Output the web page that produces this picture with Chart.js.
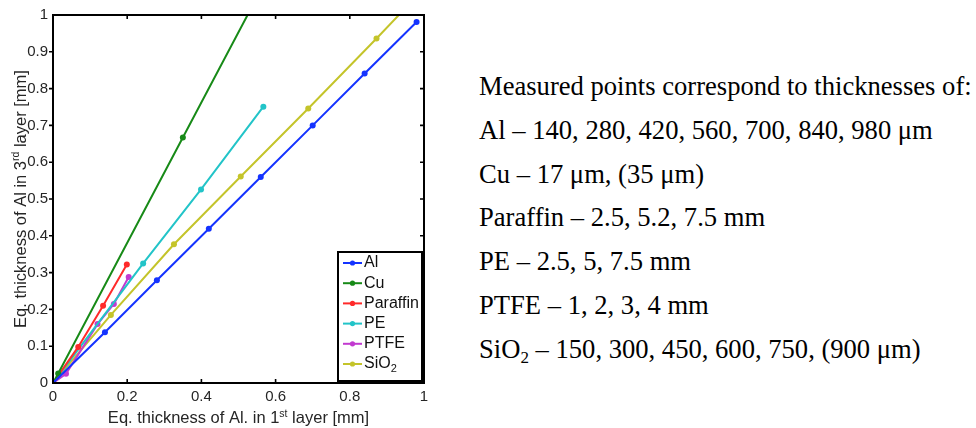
<!DOCTYPE html>
<html>
<head>
<meta charset="utf-8">
<script src="https://cdn.jsdelivr.net/npm/chart.js@4.4.0/dist/chart.umd.min.js"></script>
<style>
  html, body { margin: 0; padding: 0; background: #fff; }
  body { width: 976px; height: 428px; position: relative; overflow: hidden; }
  #plot { position: absolute; left: 0; top: 0; }
  .note { position: absolute; left: 479px; font-family: "Liberation Serif", "Times New Roman", serif;
          font-size: 26.6px; line-height: 26px; color: #000; white-space: nowrap; }
  .note sub { font-size: 17px; vertical-align: -5px; line-height: 0; }
</style>
</head>
<body>
<canvas id="plot" width="440" height="428"></canvas>
<div class="note" style="top:73px">Measured points correspond to thicknesses of:</div>
<div class="note" style="top:117px">Al – 140, 280, 420, 560, 700, 840, 980 μm</div>
<div class="note" style="top:161px">Cu – 17 μm, (35 μm)</div>
<div class="note" style="top:204px">Paraffin – 2.5, 5.2, 7.5 mm</div>
<div class="note" style="top:248px">PE – 2.5, 5, 7.5 mm</div>
<div class="note" style="top:292px">PTFE – 1, 2, 3, 4 mm</div>
<div class="note" style="top:336px">SiO<sub>2</sub> – 150, 300, 450, 600, 750, (900 μm)</div>
<script>
// series (x = 1st layer, y = 3rd layer, mm)
var seriesNames = ['Al', 'Cu', 'Paraffin', 'PE', 'PTFE', 'SiO2'];
var seriesColors = ['#1433ff', '#178a17', '#ff2a2a', '#22c4c8', '#c23ad0', '#c4c42a'];

var alX = [0, 0.14, 0.28, 0.42, 0.56, 0.70, 0.84, 0.98];
var alY = [0, 0.138, 0.279, 0.419, 0.56, 0.70, 0.841, 0.981];
var cuX = [0, 0.014, 0.35, 0.70];
var cuY = [0, 0.026, 0.667, 1.335];
var paraffinX = [0, 0.068, 0.135, 0.199];
var paraffinY = [0, 0.098, 0.21, 0.322];
var peX = [0, 0.243, 0.399, 0.567];
var peY = [0, 0.325, 0.526, 0.751];
var ptfeX = [0, 0.035, 0.12, 0.164, 0.204];
var ptfeY = [0, 0.025, 0.16, 0.215, 0.288];
var sio2X = [0, 0.156, 0.326, 0.506, 0.688, 0.872, 1.05];
var sio2Y = [0, 0.185, 0.377, 0.561, 0.746, 0.936, 1.125];

var xTicks = [0, 0.2, 0.4, 0.6, 0.8, 1];
var yTicks = [0, 0.1, 0.2, 0.3, 0.4, 0.5, 0.6, 0.7, 0.8, 0.9, 1];
var xTitle = ['Eq. thickness of Al. in 1', 'st', ' layer [mm]'];
var yTitle = ['Eq. thickness of Al in 3', 'rd', ' layer [mm]'];

var FONT = '"Liberation Sans", Arial, Helvetica, sans-serif';

function pairs(xs, ys) {
    return xs.map(function(v, i) { return {x: v, y: ys[i]}; });
}

var allX = [alX, cuX, paraffinX, peX, ptfeX, sio2X];
var allY = [alY, cuY, paraffinY, peY, ptfeY, sio2Y];

var datasets = seriesNames.map(function(name, i) {
    return {
        label: name,
        data: pairs(allX[i], allY[i]),
        borderColor: seriesColors[i],
        backgroundColor: seriesColors[i],
        borderWidth: 2,
        pointRadius: 3,
        pointBorderWidth: 0,
        pointBackgroundColor: seriesColors[i],
        tension: 0
    };
});

// text with a raised (sup) middle part
function drawTitle(ctx, parts, x, y) {
    var sizes = [16.5, 10.5, 16.5];
    var widths = parts.map(function(p, i) {
        ctx.font = sizes[i] + 'px ' + FONT;
        return ctx.measureText(p).width;
    });
    var total = widths.reduce(function(a, b) { return a + b; }, 0);
    var cx = x - total / 2;
    parts.forEach(function(p, i) {
        ctx.font = sizes[i] + 'px ' + FONT;
        ctx.fillText(p, cx, i === 1 ? y - 6.5 : y);
        cx += widths[i];
    });
}

var framePlugin = {
    id: 'frame',
    afterDatasetsDraw: function(chart) {
        var ctx = chart.ctx, a = chart.chartArea;
        var xs = chart.scales.x, ys = chart.scales.y;
        ctx.save();

        // box
        ctx.strokeStyle = '#000';
        ctx.lineWidth = 2;
        ctx.strokeRect(a.left, a.top, a.right - a.left, a.bottom - a.top);

        // tick marks
        ctx.lineWidth = 1.6;
        ctx.beginPath();
        xTicks.forEach(function(v) {
            if (v <= 0 || v >= 1) return;
            var px = xs.getPixelForValue(v);
            ctx.moveTo(px, a.bottom); ctx.lineTo(px, a.bottom - 4);
            ctx.moveTo(px, a.top); ctx.lineTo(px, a.top + 4);
        });
        yTicks.forEach(function(v) {
            if (v <= 0 || v >= 1) return;
            var py = ys.getPixelForValue(v);
            ctx.moveTo(a.left - 4, py); ctx.lineTo(a.left, py);
            ctx.moveTo(a.right, py); ctx.lineTo(a.right - 4, py);
        });
        ctx.stroke();

        // legend
        var bw = 84, bh = 129;
        var bx = a.right - 2 - bw, by = a.bottom - 2 - bh;
        ctx.fillStyle = '#fff';
        ctx.fillRect(bx, by, bw, bh);
        ctx.lineWidth = 2;
        ctx.strokeRect(bx, by, bw, bh);
        ctx.textBaseline = 'middle';
        ctx.textAlign = 'left';
        chart.data.datasets.forEach(function(ds, i) {
            var ry = by + 11 + i * 20.2;
            ctx.strokeStyle = ds.borderColor;
            ctx.lineWidth = 2;
            ctx.beginPath();
            ctx.moveTo(bx + 5, ry); ctx.lineTo(bx + 24, ry);
            ctx.stroke();
            ctx.fillStyle = ds.borderColor;
            ctx.beginPath();
            ctx.arc(bx + 14.5, ry, 2.6, 0, Math.PI * 2);
            ctx.fill();
            ctx.fillStyle = '#111';
            var m = /^(.*?)(\d)$/.exec(ds.label);
            ctx.font = '16px ' + FONT;
            if (m) {
                ctx.fillText(m[1], bx + 26, ry);
                var w = ctx.measureText(m[1]).width;
                ctx.font = '11px ' + FONT;
                ctx.fillText(m[2], bx + 26 + w, ry + 5);
            } else {
                ctx.fillText(ds.label, bx + 26, ry);
            }
        });

        // axis titles
        ctx.fillStyle = '#262626';
        ctx.textBaseline = 'alphabetic';
        ctx.textAlign = 'left';
        drawTitle(ctx, xTitle, (a.left + a.right) / 2, 423);
        ctx.translate(25.5, (a.top + a.bottom) / 2);
        ctx.rotate(-Math.PI / 2);
        drawTitle(ctx, yTitle, 0, 0);

        ctx.restore();
    }
};

new Chart(document.getElementById('plot').getContext('2d'), {
    type: 'line',
    data: {datasets: datasets},
    options: {
        responsive: false,
        animation: false,
        layout: {padding: {left: 0, right: 16, top: 15, bottom: 0}},
        plugins: {legend: {display: false}, tooltip: {enabled: false}},
        scales: {
            x: {
                type: 'linear', min: 0, max: 1,
                grid: {display: false, drawTicks: false},
                border: {display: false},
                afterBuildTicks: function(s) { s.ticks = xTicks.map(function(v) { return {value: v}; }); },
                afterFit: function(s) { s.height = 45; },
                ticks: {
                    padding: 5, color: '#262626', maxRotation: 0,
                    font: {family: FONT, size: 15},
                    callback: function(v) { return String(v); }
                }
            },
            y: {
                type: 'linear', min: 0, max: 1,
                grid: {display: false, drawTicks: false},
                border: {display: false},
                afterBuildTicks: function(s) { s.ticks = yTicks.map(function(v) { return {value: v}; }); },
                afterFit: function(s) { s.width = 53; },
                ticks: {
                    padding: 5, color: '#262626',
                    font: {family: FONT, size: 15},
                    callback: function(v) { return String(v); }
                }
            }
        }
    },
    plugins: [framePlugin]
});
</script>
</body>
</html>
